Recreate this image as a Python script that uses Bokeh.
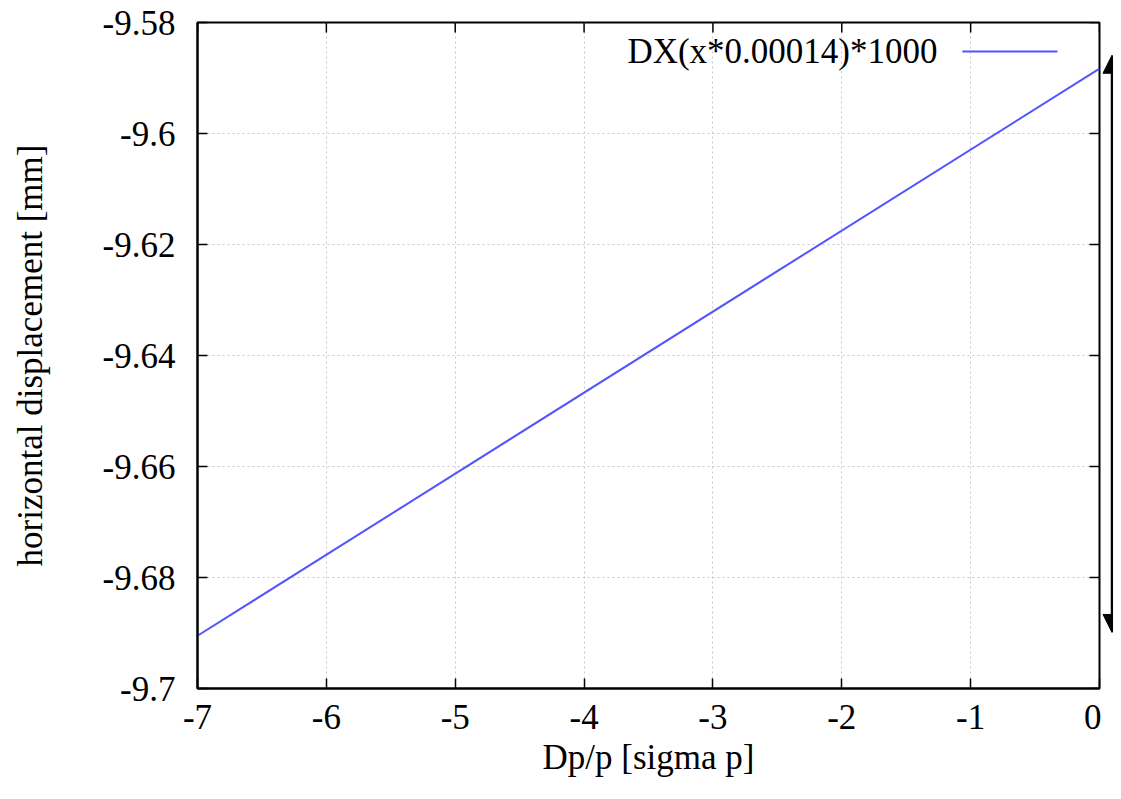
from bokeh.plotting import figure
from bokeh.models import Range1d, FixedTicker, Arrow, NormalHead, Label
from bokeh.layouts import row
from bokeh.embed import file_html
from bokeh.resources import INLINE

# ---- data ----
dp_sigma = [-7, 0]
dx_mm = [-9.6905, -9.5883]
x_ticks = [-7, -6, -5, -4, -3, -2, -1, 0]
x_tick_labels = ["-7", "-6", "-5", "-4", "-3", "-2", "-1", "0"]
y_ticks = [-9.7, -9.68, -9.66, -9.64, -9.62, -9.6, -9.58]
y_tick_labels = ["-9.7", "-9.68", "-9.66", "-9.64", "-9.62", "-9.6", "-9.58"]
arrow_span = [-9.6899, -9.5859]
series_name = "DX(x*0.00014)*1000"
x_title = "Dp/p [sigma p]"
y_title = "horizontal displacement [mm]"

X0, X1 = -7, 0
Y0, Y1 = -9.7, -9.58

FONT = "Liberation Serif"
FS = "35px"
LINE_COLOR = "#5353ff"

W_MAIN, W_ARROW, H = 1101, 12, 791
TOP, BOTTOM, LEFT, RIGHT = 22, 103, 197, 2
FRAME_W = W_MAIN - LEFT - RIGHT
FRAME_H = H - TOP - BOTTOM
TICK_LEN = 10

p = figure(width=W_MAIN, height=H, x_range=Range1d(X0, X1), y_range=Range1d(Y0, Y1),
           output_backend="svg", toolbar_location=None,
           min_border_left=LEFT, min_border_right=RIGHT,
           min_border_top=TOP, min_border_bottom=BOTTOM)
p.outline_line_color = "black"
p.outline_line_width = 2
p.background_fill_color = "white"
p.border_fill_color = "white"

xt = FixedTicker(ticks=x_ticks)
yt = FixedTicker(ticks=y_ticks)

def style_axis(ax):
    ax.axis_line_color = "black"
    ax.axis_line_width = 2
    ax.major_tick_line_color = "black"
    ax.major_tick_line_width = 1.5
    ax.major_tick_in = TICK_LEN
    ax.major_tick_out = 0
    ax.minor_tick_line_color = None
    ax.major_label_text_font = FONT
    ax.major_label_text_font_size = FS
    ax.major_label_text_color = "black"
    ax.axis_label_text_font = FONT
    ax.axis_label_text_font_style = "normal"
    ax.axis_label_text_font_size = FS
    ax.axis_label_text_color = "black"

xa = p.xaxis[0]
xa.ticker = xt
xa.major_label_overrides = {t: s for t, s in zip(x_ticks, x_tick_labels)}
style_axis(xa)
xa.major_label_standoff = 16
xa.axis_label = x_title
xa.axis_label_standoff = 6

ya = p.yaxis[0]
ya.ticker = yt
ya.major_label_overrides = {t: s for t, s in zip(y_ticks, y_tick_labels)}
style_axis(ya)
ya.major_label_standoff = 22
ya.axis_label = y_title
ya.axis_label_standoff = 50

for g, t in ((p.xgrid[0], xt), (p.ygrid[0], yt)):
    g.ticker = t
    g.grid_line_color = "#c8c8c8"
    g.grid_line_dash = "2 3"
    g.grid_line_width = 1

# mirrored inward ticks on the top and right borders (length given in pixels)
dy_tick = TICK_LEN * (Y1 - Y0) / FRAME_H
dx_tick = TICK_LEN * (X1 - X0) / FRAME_W
p.segment(x0=x_ticks, y0=[Y1] * len(x_ticks), x1=x_ticks, y1=[Y1 - dy_tick] * len(x_ticks),
          line_color="black", line_width=1.5)
p.segment(x0=[X1] * len(y_ticks), y0=y_ticks, x1=[X1 - dx_tick] * len(y_ticks), y1=y_ticks,
          line_color="black", line_width=1.5)

p.line(dp_sigma, dx_mm, line_color=LINE_COLOR, line_width=2)

# legend (gnuplot style: text left of sample line), placed by fractions of the frame
fx = lambda f: X0 + f * (X1 - X0)
fy = lambda f: Y0 + f * (Y1 - Y0)
leg_y = fy(0.9565)
p.add_layout(Label(x=fx(0.8204), y=leg_y, text=series_name, text_font=FONT,
                   text_font_size=FS, text_align="right", text_baseline="middle",
                   text_color="black"))
p.line([fx(0.8480), fx(0.9534)], [leg_y, leg_y], line_color=LINE_COLOR, line_width=2)

# side figure with the double-headed arrow
a = figure(width=W_ARROW, height=H, x_range=Range1d(0, W_ARROW), y_range=p.y_range,
           output_backend="svg", toolbar_location=None,
           min_border_left=0, min_border_right=0,
           min_border_top=TOP, min_border_bottom=BOTTOM)
a.axis.visible = False
a.grid.visible = False
a.outline_line_color = None
a.border_fill_color = "white"
a.background_fill_color = "white"
a.add_layout(Arrow(x_start=10.5, y_start=arrow_span[0], x_end=10.5, y_end=arrow_span[1],
                   line_color="black", line_width=2.5,
                   start=NormalHead(size=18, fill_color="black", line_color="black"),
                   end=NormalHead(size=18, fill_color="black", line_color="black")))

layout = row(p, a)
open("out.html", "w").write(file_html(layout, INLINE))
